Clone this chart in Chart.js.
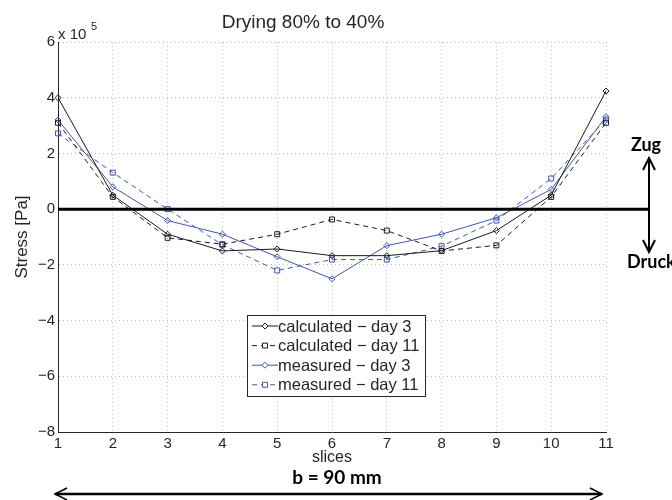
<!DOCTYPE html>
<html>
<head>
<meta charset="utf-8">
<title>Drying 80% to 40%</title>
<script src="https://cdn.jsdelivr.net/npm/chart.js@4.4.1/dist/chart.umd.min.js"></script>
<style>
  html, body { margin: 0; padding: 0; background: #fff; }
  #wrap { width: 672px; height: 500px; }
</style>
</head>
<body>
<div id="wrap"><canvas id="stress-chart" width="672" height="500"></canvas></div>
<script>
// stress per slice, in units of 1e5 Pa
const slices = ['1', '2', '3', '4', '5', '6', '7', '8', '9', '10', '11'];
const calcDay3 = [4.0, 0.5, -0.9, -1.5, -1.43, -1.67, -1.67, -1.49, -0.77, 0.5, 4.24];
const calcDay11 = [3.1, 0.44, -1.03, -1.26, -0.9, -0.37, -0.77, -1.5, -1.3, 0.44, 3.1];
const measDay3 = [3.2, 0.8, -0.41, -0.9, -1.71, -2.5, -1.31, -0.9, -0.31, 0.71, 3.32];
const measDay11 = [2.72, 1.31, 0.0, -1.28, -2.2, -1.81, -1.81, -1.33, -0.41, 1.1, 3.22];
const yTicks = [-8, -6, -4, -2, 0, 2, 4, 6];

const TEXT = '#262626';
const BLUE = '#3d55bd';
const SANS = "'Liberation Sans', Arial, Helvetica, sans-serif";
const BOLD = "Lato, 'DejaVu Sans', sans-serif";

function series(label, data, color, dashed, marker) {
    return {
        label: label,
        data: data,
        borderColor: color,
        borderWidth: 1,
        borderDash: dashed ? [5, 4] : [],
        pointStyle: marker,
        pointRadius: marker === 'rect' ? 3.5 : 3,
        pointBorderColor: color,
        pointBackgroundColor: 'rgba(255,255,255,0)',
        pointBorderWidth: 1,
        tension: 0,
        fill: false
    };
}

// legend box inside the plot
const boxLegend = {
    id: 'boxLegend',
    afterDatasetsDraw(chart) {
        const ctx = chart.ctx;
        const x = 247, y = 315, w = 178, h = 81, rowH = 19.6;
        ctx.save();
        ctx.fillStyle = '#fff';
        ctx.fillRect(x, y, w, h);
        ctx.strokeStyle = TEXT;
        ctx.lineWidth = 1;
        ctx.strokeRect(x + 0.5, y + 0.5, w, h);
        chart.data.datasets.forEach((ds, i) => {
            const cy = y + 11 + i * rowH;
            ctx.strokeStyle = ds.borderColor;
            ctx.setLineDash(ds.borderDash);
            ctx.beginPath();
            ctx.moveTo(x + 5, cy);
            ctx.lineTo(x + 31, cy);
            ctx.stroke();
            ctx.setLineDash([]);
            ctx.fillStyle = '#fff';
            Chart.helpers.drawPoint(ctx, {
                pointStyle: ds.pointStyle, radius: ds.pointRadius, borderWidth: 1, rotation: 0
            }, x + 18, cy);
            ctx.fillStyle = TEXT;
            ctx.font = '16.5px ' + SANS;
            ctx.textBaseline = 'middle';
            ctx.fillText(ds.label, x + 31, cy + 1);
        });
        ctx.restore();
    }
};

// zero line, tension/compression arrow, width arrow and exponent
const annotations = {
    id: 'annotations',
    afterDatasetsDraw(chart) {
        const ctx = chart.ctx;
        const area = chart.chartArea;
        const y0 = chart.scales.y.getPixelForValue(0);
        const ax = 649;
        ctx.save();
        ctx.strokeStyle = '#000';
        ctx.lineWidth = 3;
        ctx.beginPath();
        ctx.moveTo(area.left, y0);
        ctx.lineTo(ax, y0);
        ctx.stroke();

        // Zug / Druck double arrow
        ctx.lineWidth = 2;
        ctx.beginPath();
        ctx.moveTo(ax, 158);
        ctx.lineTo(ax, 252);
        ctx.moveTo(ax - 6, 170); ctx.lineTo(ax, 158); ctx.lineTo(ax + 6, 170);
        ctx.moveTo(ax - 6, 240); ctx.lineTo(ax, 252); ctx.lineTo(ax + 6, 240);
        ctx.stroke();

        // b = 90 mm arrow
        const by = 494, bl = area.left - 3, br = area.right - 4;
        ctx.lineWidth = 2.5;
        ctx.beginPath();
        ctx.moveTo(bl, by);
        ctx.lineTo(br, by);
        ctx.stroke();
        ctx.lineWidth = 1.5;
        ctx.beginPath();
        ctx.moveTo(bl + 12, by - 6); ctx.lineTo(bl, by); ctx.lineTo(bl + 12, by + 6);
        ctx.moveTo(br - 12, by - 6); ctx.lineTo(br, by); ctx.lineTo(br - 12, by + 6);
        ctx.stroke();

        ctx.fillStyle = '#000';
        ctx.font = 'bold 18px ' + BOLD;
        ctx.textAlign = 'center';
        ctx.textBaseline = 'middle';
        ctx.fillText('Zug', 646, 145);
        ctx.font = 'bold 19px ' + BOLD;
        ctx.fillText('b = 90 mm', 337, 478);
        ctx.font = 'bold 18px ' + BOLD;
        ctx.textAlign = 'left';
        ctx.fillText('Druck', 627, 262);

        // exponent label above the y axis
        ctx.fillStyle = TEXT;
        ctx.textBaseline = 'alphabetic';
        ctx.font = '15px ' + SANS;
        ctx.fillText('x 10', area.left, area.top - 3);
        ctx.font = '11px ' + SANS;
        ctx.fillText('5', area.left + 33, area.top - 12);
        ctx.restore();
    }
};

const chart = new Chart(document.getElementById('stress-chart'), {
    type: 'line',
    data: {
        labels: slices,
        datasets: [
            series('calculated \u2212 day 3', calcDay3, '#1a1a1a', false, 'rectRot'),
            series('calculated \u2212 day 11', calcDay11, '#1a1a1a', true, 'rect'),
            series('measured \u2212 day 3', measDay3, BLUE, false, 'rectRot'),
            series('measured \u2212 day 11', measDay11, BLUE, true, 'rect')
        ]
    },
    options: {
        responsive: false,
        animation: false,
        devicePixelRatio: 1,
        layout: { padding: { left: 0, right: 66, top: 0, bottom: 28 } },
        plugins: {
            legend: { display: false },
            tooltip: { enabled: false },
            title: {
                display: true,
                text: 'Drying 80% to 40%',
                color: TEXT,
                font: { family: SANS, size: 19, weight: 'normal' },
                padding: { top: 11, bottom: 8.2 }
            }
        },
        scales: {
            x: {
                offset: false,
                grid: { color: '#bdbdbd', drawTicks: false },
                border: { color: TEXT, width: 1, dash: [1, 3] },
                ticks: { color: TEXT, font: { family: SANS, size: 15 }, padding: 3, maxRotation: 0, autoSkip: false },
                title: {
                    display: true, text: 'slices', color: TEXT,
                    font: { family: SANS, size: 16 }, padding: { top: 0, bottom: 5 }
                },
                afterFit(scale) { scale.height = 40; }
            },
            y: {
                min: -8,
                max: 6,
                afterBuildTicks(scale) { scale.ticks = yTicks.map(v => ({ value: v })); },
                grid: { color: '#bdbdbd', drawTicks: false },
                border: { color: TEXT, width: 1, dash: [1, 3] },
                ticks: {
                    color: TEXT, font: { family: SANS, size: 15 }, padding: 3,
                    callback: v => (v < 0 ? '\u2212' + Math.abs(v) : String(v))
                },
                title: {
                    display: true, text: 'Stress [Pa]', color: TEXT,
                    font: { family: SANS, size: 17 }, padding: { top: 12, bottom: 0 }
                },
                afterFit(scale) { scale.width = 58; }
            }
        }
    },
    plugins: [boxLegend, annotations]
});
</script>
</body>
</html>
